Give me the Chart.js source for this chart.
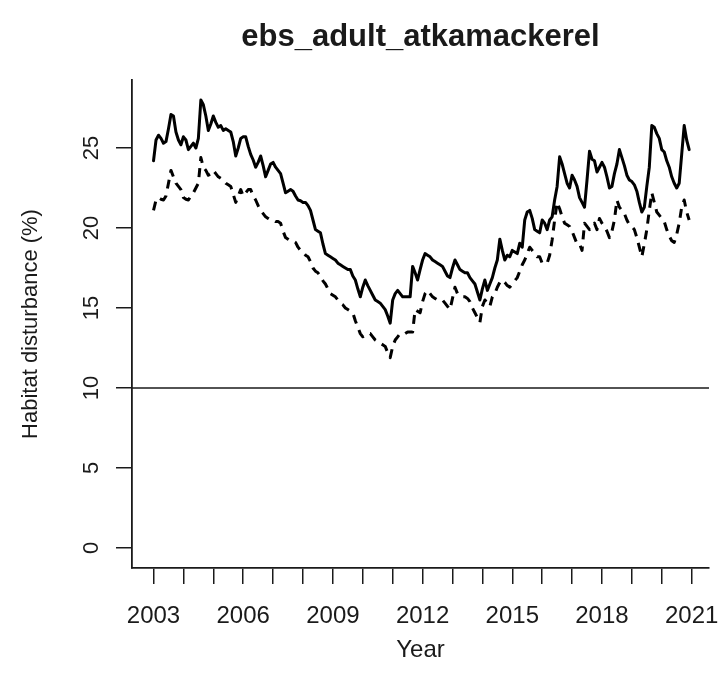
<!DOCTYPE html>
<html>
<head>
<meta charset="utf-8">
<script src="https://cdn.jsdelivr.net/npm/chart.js@4.4.1/dist/chart.umd.min.js"></script>
<style>
  html, body { margin: 0; padding: 0; background: #ffffff; }
  #wrap { width: 718px; height: 694px; position: relative; }
</style>
</head>
<body>
<div id="wrap"><canvas id="c" width="718" height="694"></canvas></div>
<script>
// ---- Data (monthly, Jan 2003 .. Dec 2020) ----
const chartTitle = "ebs_adult_atkamackerel";
const xTitle = "Year";
const yTitle = "Habitat disturbance (%)";
const startYear = 2003;
const xTickYears = [2003,2004,2005,2006,2007,2008,2009,2010,2011,2012,2013,2014,2015,2016,2017,2018,2019,2020,2021];
const xLabelYears = [2003,2006,2009,2012,2015,2018,2021];
const yTickValues = [0,5,10,15,20,25];
const referenceLevel = 10;

const solidSeries = [
  24.2,25.5,25.8,25.6,25.3,25.4,26.2,27.1,27.0,26.0,25.5,25.2,
  25.7,25.5,24.9,25.1,25.3,25.0,25.6,28.0,27.7,27.0,26.1,26.5,
  27.0,26.6,26.3,26.4,26.1,26.2,26.1,26.0,25.4,24.5,25.0,25.6,
  25.7,25.7,25.1,24.6,24.25,23.8,24.1,24.5,23.9,23.2,23.6,24.0,
  24.1,23.8,23.6,23.4,22.8,22.2,22.3,22.4,22.3,22.0,21.75,21.7,
  21.6,21.6,21.4,21.1,20.5,19.9,19.8,19.7,19.0,18.4,18.3,18.2,
  18.1,18.0,17.8,17.7,17.6,17.5,17.4,17.4,17.0,16.75,16.2,15.7,
  16.3,16.75,16.4,16.1,15.8,15.5,15.4,15.3,15.1,14.9,14.5,14.05,
  15.5,15.9,16.1,15.9,15.7,15.7,15.7,15.7,17.6,17.2,16.75,17.4,
  18.0,18.4,18.3,18.2,18.0,17.9,17.8,17.7,17.6,17.3,17.0,16.9,
  17.5,18.0,17.7,17.4,17.3,17.2,17.2,16.9,16.7,16.5,16.0,15.5,
  16.2,16.75,16.1,16.5,16.9,17.5,18.0,19.3,18.6,18.0,18.3,18.2,
  18.6,18.5,18.4,19.05,18.8,20.5,21.0,21.1,20.6,19.9,19.8,19.7,
  20.5,20.3,19.9,20.5,20.7,21.75,22.6,24.45,24.0,23.4,22.8,22.5,
  23.3,23.0,22.6,21.9,21.6,21.3,23.0,24.8,24.3,24.2,23.5,23.8,
  24.1,23.8,23.2,22.5,22.6,23.4,24.0,24.9,24.4,23.9,23.3,23.0,
  22.9,22.7,22.3,21.6,21.0,21.3,22.6,23.8,26.4,26.3,25.9,25.6,
  24.9,24.75,24.2,23.8,23.2,22.8,22.5,22.8,24.6,26.4,25.5,24.9
];

const dashedSeries = [
  21.1,21.75,21.9,21.8,21.75,22.0,22.8,23.6,23.2,22.8,22.6,22.4,
  21.9,21.8,21.75,22.0,22.2,22.5,22.8,24.4,23.8,23.6,23.3,23.4,
  23.6,23.4,23.2,23.1,23.0,22.8,22.7,22.6,22.1,21.6,22.0,22.4,
  22.0,22.2,22.4,22.4,22.0,21.75,21.4,21.1,20.9,20.7,20.6,20.5,
  20.5,20.4,20.4,20.3,19.8,19.4,19.3,19.2,19.2,19.1,18.8,18.6,
  18.5,18.3,18.2,17.9,17.5,17.3,17.2,17.0,16.7,16.5,16.2,15.9,
  15.8,15.7,15.5,15.3,15.2,15.0,14.9,14.8,14.7,14.2,13.8,13.4,
  13.2,13.3,13.4,13.4,13.2,13.0,12.9,12.8,12.7,12.6,12.2,11.9,
  12.6,13.0,13.2,13.4,13.4,13.4,13.5,13.5,13.5,14.9,14.8,14.7,
  15.4,15.9,16.1,15.9,15.7,15.6,15.5,15.5,15.5,15.3,15.1,14.9,
  15.6,16.3,15.9,15.8,15.7,15.7,15.6,15.4,15.0,14.7,14.4,14.1,
  15.1,15.5,15.3,15.1,15.7,15.9,16.3,16.6,16.75,16.6,16.4,16.3,
  16.5,16.7,16.9,17.3,17.7,18.0,18.4,18.8,18.6,18.4,18.2,18.2,
  17.8,17.8,17.8,18.3,19.25,20.5,21.6,21.2,20.7,20.3,20.2,20.1,
  19.8,19.4,19.0,19.0,18.6,20.3,20.1,19.9,20.1,20.3,19.9,20.6,
  20.3,20.1,19.8,19.4,19.8,20.5,21.75,21.3,21.1,20.9,20.5,20.2,
  20.1,19.9,19.4,18.8,18.2,19.0,19.9,21.1,22.2,21.6,21.0,20.8,
  20.6,20.4,19.9,19.5,19.2,19.1,19.6,20.3,21.3,21.75,21.0,20.5
];

const toPoints = (arr) => arr.map((v, i) => ({ x: startYear + i / 12, y: v }));

const FONT = "'Liberation Sans', Arial, Helvetica, sans-serif";
const INK = "#1a1a1a";

const decorPlugin = {
  id: 'decor',
  afterDatasetsDraw(chart) {
    const { ctx, chartArea, scales } = chart;
    const yPix = scales.y.getPixelForValue(referenceLevel);
    ctx.save();
    ctx.strokeStyle = INK;
    ctx.lineWidth = 1.5;
    ctx.beginPath();
    ctx.moveTo(chartArea.left, yPix);
    ctx.lineTo(chartArea.right, yPix);
    ctx.stroke();
    ctx.restore();
  },
  afterDraw(chart) {
    const { ctx, chartArea, scales } = chart;
    ctx.save();
    ctx.fillStyle = INK;
    // title
    ctx.font = "bold 31px " + FONT;
    ctx.textAlign = 'center';
    ctx.textBaseline = 'middle';
    ctx.fillText(chartTitle, (chartArea.left + chartArea.right) / 2, 37);
    // x title
    ctx.font = "24px " + FONT;
    ctx.fillText(xTitle, (chartArea.left + chartArea.right) / 2, 650);
    // y tick labels (rotated, as in R)
    ctx.font = "22px " + FONT;
    scales.y.ticks.forEach(t => {
      const p = scales.y.getPixelForValue(t.value);
      ctx.save();
      ctx.translate(92, p);
      ctx.rotate(-Math.PI / 2);
      ctx.textAlign = 'center';
      ctx.textBaseline = 'middle';
      ctx.fillText(String(t.value), 0, 0);
      ctx.restore();
    });
    // y title
    ctx.save();
    ctx.translate(31, (chartArea.top + chartArea.bottom) / 2);
    ctx.rotate(-Math.PI / 2);
    ctx.font = "22px " + FONT;
    ctx.textAlign = 'center';
    ctx.textBaseline = 'middle';
    ctx.fillText(yTitle, 0, 0);
    ctx.restore();
    ctx.restore();
  }
};

new Chart(document.getElementById('c'), {
  type: 'scatter',
  data: {
    datasets: [
      {
        label: 'solid',
        data: toPoints(solidSeries),
        showLine: true,
        borderColor: '#000000',
        borderWidth: 3,
        pointRadius: 0,
        borderCapStyle: 'round',
        borderJoinStyle: 'round',
        tension: 0
      },
      {
        label: 'dashed',
        data: toPoints(dashedSeries),
        showLine: true,
        borderColor: '#000000',
        borderWidth: 3,
        borderDash: [9, 7],
        pointRadius: 0,
        borderCapStyle: 'butt',
        borderJoinStyle: 'round',
        tension: 0
      }
    ]
  },
  options: {
    responsive: false,
    animation: false,
    layout: { padding: { top: 80, right: 9, left: 0, bottom: 0 } },
    plugins: { legend: { display: false }, tooltip: { enabled: false }, title: { display: false } },
    scales: {
      x: {
        type: 'linear',
        min: 2002.28,
        max: 2021.58,
        afterBuildTicks(scale) { scale.ticks = xTickYears.map(v => ({ value: v })); },
        afterFit(scale) { scale.height = 126; scale.paddingLeft = 0; scale.paddingRight = 0; },
        grid: { drawOnChartArea: false, drawTicks: true, tickLength: 16, color: INK, lineWidth: 1.5 },
        border: { display: true, color: INK, width: 1.8 },
        ticks: {
          autoSkip: false,
          maxRotation: 0,
          minRotation: 0,
          padding: 18,
          color: INK,
          font: { family: FONT, size: 24 },
          callback: (v) => xLabelYears.includes(v) ? String(v) : ''
        }
      },
      y: {
        type: 'linear',
        min: -1.25,
        max: 29.25,
        afterBuildTicks(scale) { scale.ticks = yTickValues.map(v => ({ value: v })); },
        afterFit(scale) { scale.width = 132; scale.paddingTop = 0; scale.paddingBottom = 0; },
        grid: { drawOnChartArea: false, drawTicks: true, tickLength: 16, color: INK, lineWidth: 1.5 },
        border: { display: true, color: INK, width: 1.8 },
        ticks: { display: false }
      }
    }
  },
  plugins: [decorPlugin]
});
</script>
</body>
</html>
